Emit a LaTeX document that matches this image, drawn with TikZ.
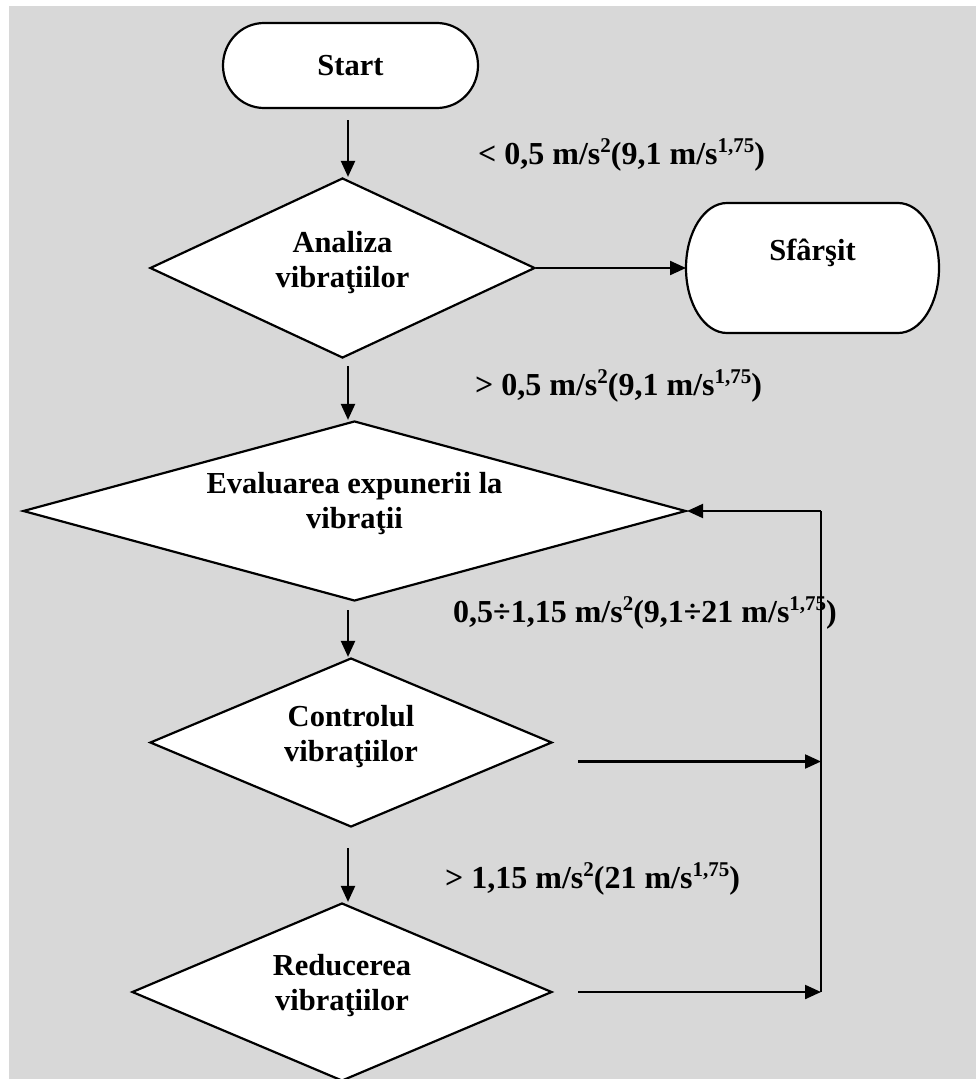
\documentclass[tikz,border=0pt]{standalone}
\usepackage{fontspec}
\setmainfont{Liberation Serif}
\usetikzlibrary{arrows.meta,shapes.geometric}

\definecolor{paper}{RGB}{216,216,216}

\pgfdeclarelayer{ground}
\pgfdeclarelayer{outline}
\pgfsetlayers{ground,outline,main}

% raised, smaller text for the exponents in the threshold labels
\newcommand\upsc[1]{\raisebox{0.36em}{\fontsize{21}{21}\selectfont #1}}

% terminator outline around a node: straight top/bottom, elliptic ends
% #1 node name, #2 horizontal radius of the ends, #3 half height
\newcommand\termoutline[3]{%
  \draw[shapeline, fill=white]
    ([xshift=#2]#1.north west) -- ([xshift=-#2]#1.north east)
    arc[start angle=90, end angle=-90, x radius=#2, y radius=#3]
    -- ([xshift=#2]#1.south west)
    arc[start angle=270, end angle=90, x radius=#2, y radius=#3]
    -- cycle;}

\tikzset{
  shapeline/.style={line width=2.2pt, draw=black},
  term/.style={rectangle, inner sep=0pt, outer sep=0pt, align=center,
    font=\fontsize{30.5}{36}\selectfont\bfseries},
  decision/.style={diamond, shapeline, fill=white, inner sep=0pt},
  dtext/.style={align=center, inner sep=0pt,
    font=\fontsize{30.5}{35}\selectfont\bfseries},
  cond/.style={anchor=base west, inner sep=0pt,
    font=\fontsize{32}{38}\selectfont\bfseries},
  arr/.style={line width=2.2pt, -{Triangle[length=16pt,width=14pt]}},
  wire/.style={line width=2.2pt},
}

\begin{document}
\begin{tikzpicture}[x=1pt, y=-1pt]
  \useasboundingbox (0,0) rectangle (976,1079);
  \clip (0,0) rectangle (976,1079);

  \begin{pgfonlayer}{ground}
    \fill[white] (0,0) rectangle (976,1079);
    \fill[paper] (9,6) rectangle (976,1079);
  \end{pgfonlayer}

  % column of the downward arrows and the return line
  \coordinate (col) at (348,0);
  \coordinate (loop) at (821,0);

  % start / end terminators
  \node[term, minimum width=255pt, minimum height=85pt] (start) at (350.5,65.5) {Start};
  \node[term, minimum width=253pt, minimum height=130pt] (sf) at (812.5,268) {Sfârşit\\~};
  \begin{pgfonlayer}{outline}
    \termoutline{start}{41pt}{42.5pt}
    \termoutline{sf}{41pt}{65pt}
  \end{pgfonlayer}

  % decisions
  \node[decision, minimum width=385pt, minimum height=180pt] (ana) at (342.5,268) {};
  \node[decision, minimum width=663pt, minimum height=180pt] (eva) at (354.5,511) {};
  \node[decision, minimum width=402pt, minimum height=169pt] (ctl) at (351,742.5) {};
  \node[decision, minimum width=420pt, minimum height=178pt] (red) at (342,992) {};

  \node[dtext] (ana-t) at ([yshift=5pt]ana.center) {Analiza\\vibraţiilor};
  \node[dtext] (eva-t) at ([yshift=7pt]eva.center) {Evaluarea expunerii la\\vibraţii};
  \node[dtext] (ctl-t) at ([yshift=6pt]ctl.center) {Controlul\\vibraţiilor};
  \node[dtext] (red-t) at ([yshift=6pt]red.center) {Reducerea\\vibraţiilor};

  % threshold labels
  \node[cond] (l1) at (478,164) {< 0,5 m/s\upsc{2}(9,1 m/s\upsc{1,75})};
  \node[cond] (l2) at (475,395) {> 0,5 m/s\upsc{2}(9,1 m/s\upsc{1,75})};
  \node[cond] (l3) at (453,622) {0,5÷1,15 m/s\upsc{2}(9,1÷21 m/s\upsc{1,75})};
  \node[cond] (l4) at (445,888) {> 1,15 m/s\upsc{2}(21 m/s\upsc{1,75})};

  % main flow
  \draw[arr] ([yshift=-12pt]start.south -| col) -- (col |- ana.north);
  \draw[arr] (ana.east) -- (sf.west);
  \draw[arr] ([yshift=-7pt]ana.south -| col) -- (col |- eva.north);
  \draw[arr] ([yshift=-8pt]eva.south -| col) -- (col |- ctl.north);
  \draw[arr] ([yshift=-20pt]ctl.south -| col) -- (col |- red.north);

  % return to the exposure evaluation
  \coordinate (c1) at ([shift={(25pt,-19pt)}]ctl.east);
  \coordinate (c2) at ([xshift=25pt]red.east);
  \draw[arr] (c1) -- (c1 -| loop);
  \draw[arr] (c2) -- (c2 -| loop);
  \draw[wire] (loop |- c2) -- (loop |- eva.east);
  \draw[arr] (loop |- eva.east) -- (eva.east);
\end{tikzpicture}
\end{document}
